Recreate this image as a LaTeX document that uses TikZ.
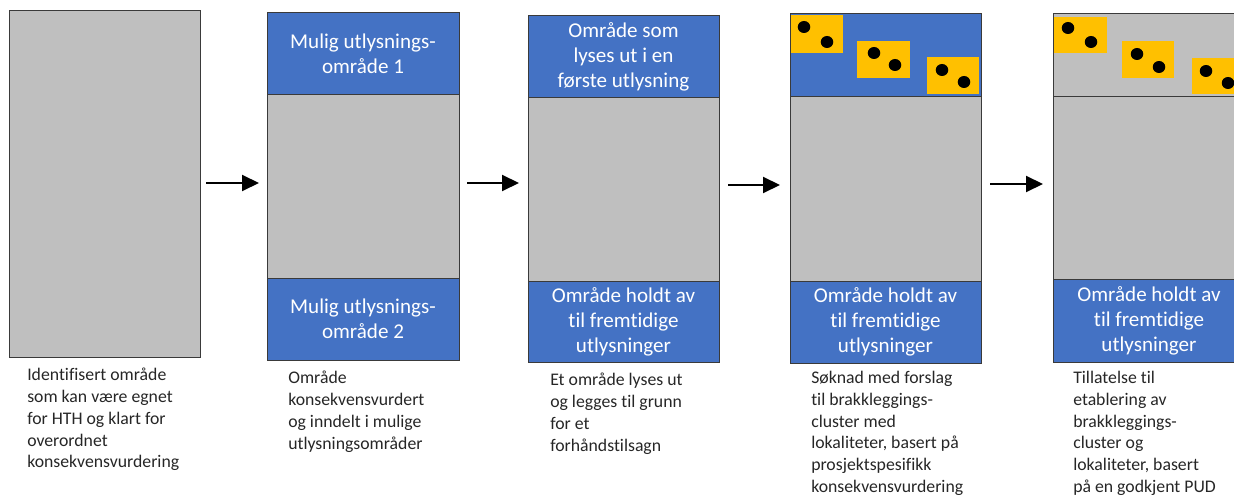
\documentclass[tikz,border=0pt]{standalone}
\usepackage{fontspec}
\setmainfont{Carlito}[RawFeature=-liga]
\usetikzlibrary{arrows.meta,fit}
\definecolor{bluefill}{HTML}{4472C4}
\definecolor{grayfill}{HTML}{BFBFBF}
\definecolor{yel}{HTML}{FFC000}
\definecolor{edge}{HTML}{3A3A3A}
\definecolor{captxt}{HTML}{262626}
\begin{document}
\begin{tikzpicture}[x=0.75pt,y=-0.75pt,
  sect/.style={draw=edge,line width=0.75pt,inner sep=0pt},
  bluesect/.style={sect,fill=bluefill},
  graysect/.style={sect,fill=grayfill},
  bluetext/.style={text=white,font=\fontsize{15.8}{18.8}\selectfont,align=center,inner sep=0pt},
  caption/.style={anchor=north west,inner sep=0pt,align=left,font=\fontsize{13.3}{16.3}\selectfont,text=captxt},
  arr/.style={line width=1.5pt,-{Triangle[length=12.75pt,width=12pt]}},
  patch/.style={fill=yel},
  dot/.style={fill=black}]
\useasboundingbox (0,0) rectangle (1234,495);
\clip (0,0) rectangle (1234,495);

% Panel 1
\node[graysect,fit={(9,11) (200,357)}] (p1) {};

% Panel 2
\node[graysect,fit={(267,95) (459,278)}] (p2m) {};
\node[bluesect,fit={(267,13) (459,95)}] (p2t) {};
\node[bluesect,fit={(267,278) (459,360)}] (p2b) {};
\node[bluetext] (p2tt) at (p2t.center) {Mulig utlysnings-\\område 1};
\node[bluetext] (p2bt) at (p2b.center) {Mulig utlysnings-\\område 2};

% Panel 3
\node[graysect,fit={(528,98) (719,281)}] (p3m) {};
\node[bluesect,fit={(528,16) (719,98)}] (p3t) {};
\node[bluesect,fit={(528,281) (719,362)}] (p3b) {};
\node[bluetext] (p3tt) at (p3t.center) {Område som\\lyses ut i en\\første utlysning};
\node[bluetext] (p3bt) at (p3b.center) {Område holdt av\\til fremtidige\\utlysninger};

% Panel 4
\node[graysect,fit={(790,97) (981,281)}] (p4m) {};
\node[bluesect,fit={(790,14) (981,97)}] (p4t) {};
\node[bluesect,fit={(790,281) (981,363)}] (p4b) {};
\node[bluetext] (p4bt) at (p4b.center) {Område holdt av\\til fremtidige\\utlysninger};
\fill[patch] (791,15) rectangle (843,53);
\fill[patch] (857,41) rectangle (910,78);
\fill[patch] (927,57) rectangle (979,94);
\fill[dot] (804,27) ellipse [x radius=4.7pt,y radius=4.5pt];
\fill[dot] (827,42) ellipse [x radius=4.7pt,y radius=4.5pt];
\fill[dot] (874,53) ellipse [x radius=4.7pt,y radius=4.5pt];
\fill[dot] (895,65) ellipse [x radius=4.7pt,y radius=4.5pt];
\fill[dot] (942,70) ellipse [x radius=4.7pt,y radius=4.5pt];
\fill[dot] (964,82) ellipse [x radius=4.7pt,y radius=4.5pt];

% Panel 5
\node[graysect,fit={(1053,97) (1245,279)}] (p5m) {};
\node[graysect,fit={(1053,14) (1245,97)}] (p5t) {};
\node[bluesect,fit={(1053,279) (1245,362)}] (p5b) {};
\node[bluetext] (p5bt) at (1149,321) {Område holdt av\\til fremtidige\\utlysninger};
\fill[patch] (1054,17) rectangle (1107,53);
\fill[patch] (1122,41) rectangle (1174,78);
\fill[patch] (1192,58) rectangle (1245,94);
\fill[dot] (1068,28) ellipse [x radius=4.7pt,y radius=4.5pt];
\fill[dot] (1091,42) ellipse [x radius=4.7pt,y radius=4.5pt];
\fill[dot] (1137,54) ellipse [x radius=4.7pt,y radius=4.5pt];
\fill[dot] (1159,67) ellipse [x radius=4.7pt,y radius=4.5pt];
\fill[dot] (1206,71) ellipse [x radius=4.7pt,y radius=4.5pt];
\fill[dot] (1228,83) ellipse [x radius=4.7pt,y radius=4.5pt];

% Arrows
\coordinate (a1s) at (206,183); \coordinate (a1e) at (259,183);
\coordinate (a2s) at (467,183); \coordinate (a2e) at (519,183);
\coordinate (a3s) at (728,185); \coordinate (a3e) at (780,185);
\coordinate (a4s) at (990,184); \coordinate (a4e) at (1043,184);
\draw[arr] (a1s) -- (a1e);
\draw[arr] (a2s) -- (a2e);
\draw[arr] (a3s) -- (a3e);
\draw[arr] (a4s) -- (a4e);

% Captions
\node[caption] (c1) at (27,368) {Identifisert område\\som kan være egnet\\for HTH og klart for\\overordnet\\konsekvensvurdering};
\node[caption] (c2) at (288,371) {Område\\konsekvensvurdert\\og inndelt i mulige\\utlysningsområder};
\node[caption] (c3) at (550,373) {Et område lyses ut\\og legges til grunn\\for et\\forhåndstilsagn};
\node[caption] (c4) at (811,371) {Søknad med forslag\\til brakkleggings-\\cluster med\\lokaliteter, basert på\\prosjektspesifikk\\konsekvensvurdering};
\node[caption] (c5) at (1073,371) {Tillatelse til\\etablering av\\brakkleggings-\\cluster og\\lokaliteter, basert\\på en godkjent PUD};
\end{tikzpicture}
\end{document}
